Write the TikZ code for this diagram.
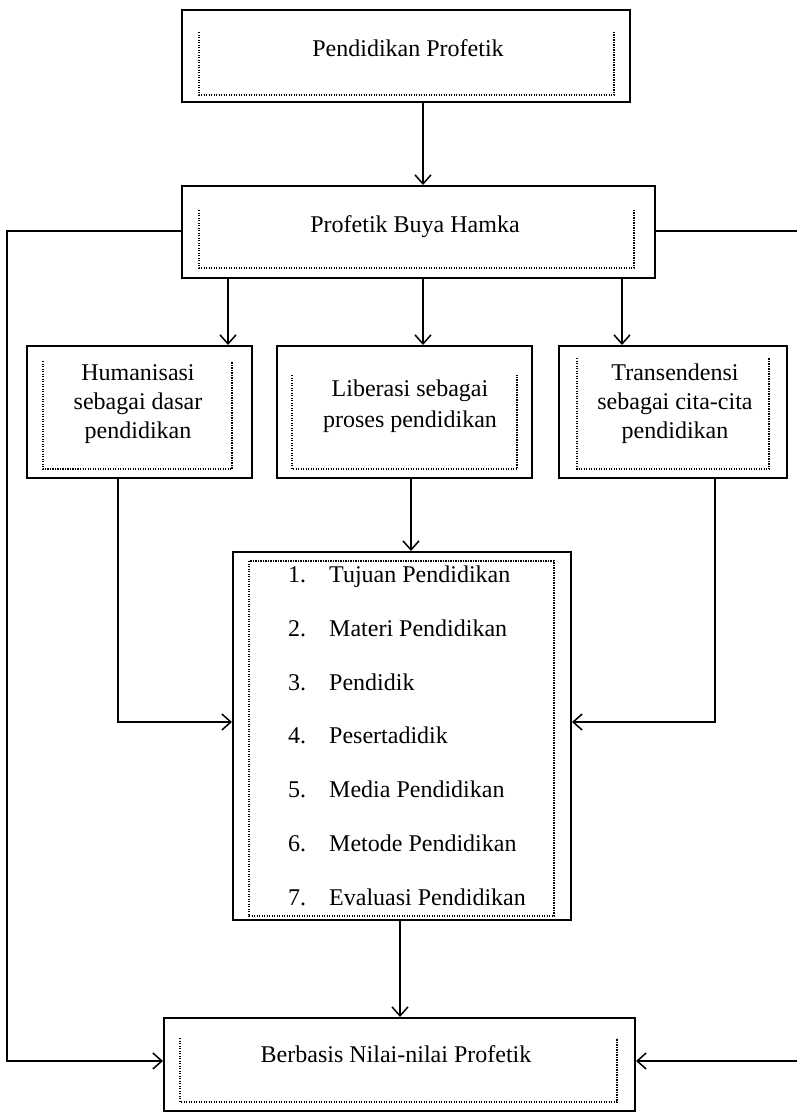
\documentclass[tikz,border=0pt]{standalone}
\usepackage{fontspec}
\setmainfont{Liberation Serif}
\usetikzlibrary{arrows.meta}
\begin{document}
\begin{tikzpicture}[x=1pt,y=-1pt,
 outerbox/.style={draw, line width=2pt, inner sep=0pt},
 dotframe/.style={line width=1.4pt, dash pattern=on 1.3pt off 1.2pt},
 conn/.style={line width=1.5pt, -{Straight Barb[length=9pt,width=16pt,line width=1.5pt]}},
 txt/.style={font=\fontsize{24}{29}\selectfont, inner sep=0pt, align=center, anchor=base}
]
\useasboundingbox (0,0) rectangle (796,1112);
% outer boxes
\node[outerbox, minimum width=448pt, minimum height=92pt] (b1) at (406,56) {};
\node[outerbox, minimum width=473pt, minimum height=92pt] (b2) at (418.5,232) {};
\node[outerbox, minimum width=225pt, minimum height=132pt] (b3) at (139.5,412) {};
\node[outerbox, minimum width=255pt, minimum height=132pt] (b4) at (404.5,412) {};
\node[outerbox, minimum width=228pt, minimum height=132pt] (b5) at (673,412) {};
\node[outerbox, minimum width=338pt, minimum height=368pt] (L) at (402,736) {};
\node[outerbox, minimum width=471pt, minimum height=93pt] (b6) at (399.5,1064.5) {};
% inner dotted frames
\draw[dotframe] (199,32) -- (199,95) -- (614,95) -- (614,32);
\draw[dotframe] (199,210) -- (199,268) -- (634,268) -- (634,210);
\draw[dotframe] (43,361) -- (43,469) -- (232,469) -- (232,361);
\draw[dotframe] (292,375) -- (292,469) -- (517,469) -- (517,375);
\draw[dotframe] (577,358) -- (577,469) -- (769,469) -- (769,358);
\draw[dotframe] (249,561) rectangle (554,916);
\draw[dotframe] (180,1038) -- (180,1102) -- (617,1102) -- (617,1038);
% texts
\node[txt] (t1) at (408,56) {Pendidikan Profetik};
\node[txt] (t2) at (415,232) {Profetik Buya Hamka};
\node[txt] (t3) at (138,438) {Humanisasi\\sebagai dasar\\pendidikan};
\node[txt] (t4) at (410,427) {Liberasi sebagai\\[2pt]proses pendidikan};
\node[txt] (t5) at (675,438) {Transendensi\\sebagai cita-cita\\pendidikan};
\foreach \i/\y/\t in {1/582/Tujuan Pendidikan, 2/636/Materi Pendidikan, 3/690/Pendidik, 4/743/Pesertadidik, 5/797/Media Pendidikan, 6/851/Metode Pendidikan, 7/905/Evaluasi Pendidikan}{
  \node[txt, anchor=base west] (n\i) at (288,\y) {\i.};
  \node[txt, anchor=base west] (i\i) at (329,\y) {\t};
}
\node[txt] (t6) at (396,1062) {Berbasis Nilai-nilai Profetik};
% helper coordinates
\coordinate (xA) at (423,0);
\coordinate (xL) at (228,0);
\coordinate (xR) at (622,0);
\coordinate (xB) at (411,0);
\coordinate (xH) at (118,0);
\coordinate (xT) at (715,0);
\coordinate (xS) at (400,0);
\coordinate (xFL) at (7,0);
\coordinate (xFR) at (800,0);
\coordinate (yA) at (0,722);
\coordinate (yB) at (0,231);
\coordinate (yC) at (0,1061);
% connectors
\draw[conn] (b1.south -| xA) -- (b2.north -| xA);
\draw[conn] (b2.south -| xL) -- (b3.north -| xL);
\draw[conn] (b2.south -| xA) -- (b4.north -| xA);
\draw[conn] (b2.south -| xR) -- (b5.north -| xR);
\draw[conn] (b4.south -| xB) -- (L.north -| xB);
\draw[conn] (b3.south -| xH) |- (L.west |- yA);
\draw[conn] (b5.south -| xT) |- (L.east |- yA);
\draw[conn] (L.south -| xS) -- (b6.north -| xS);
\draw[conn] (b2.west |- yB) -| (xFL |- yC) -- (b6.west |- yC);
\draw[conn] (b2.east |- yB) -| (xFR |- yC) -- (b6.east |- yC);
\end{tikzpicture}
\end{document}
